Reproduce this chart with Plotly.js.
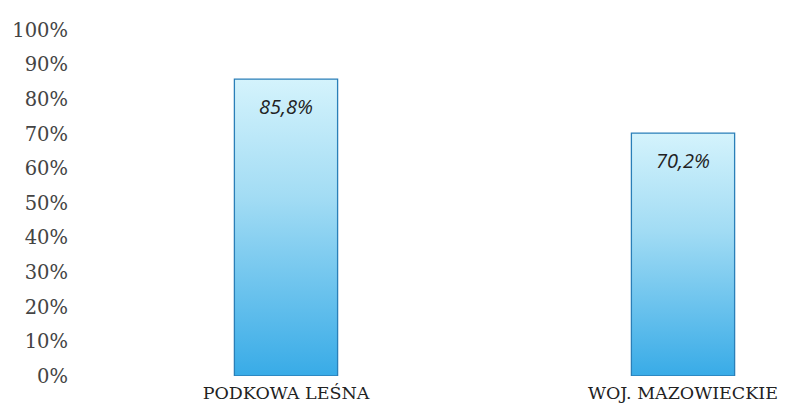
<!DOCTYPE html>
<html>
<head>
<meta charset="utf-8">
<script src="https://cdn.plot.ly/plotly-3.0.1.min.js"></script>
<style>html,body{margin:0;padding:0;background:#fff;}#chart{width:786px;height:415px;}</style>
</head>
<body>
<div id="chart"></div>
<script>
const categories = ["PODKOWA LEŚNA", "WOJ. MAZOWIECKIE"];
const values = [0.858, 0.702];
const tickValues = [0, 0.1, 0.2, 0.3, 0.4, 0.5, 0.6, 0.7, 0.8, 0.9, 1.0];

const fmt = v => (v * 100).toFixed(1).replace('.', ',') + '%';

const trace = {
  type: 'bar',
  x: [0, 1],
  y: values,
  width: 0.26,
  marker: {color: '#7ccbef', line: {color: '#2a7fb8', width: 1.3}},
  hoverinfo: 'skip'
};

const annotations = values.map((v, i) => ({
  x: i, y: v, xref: 'x', yref: 'y',
  text: fmt(v), showarrow: false,
  yanchor: 'top', yshift: -12,
  font: {family: 'Open Sans, Liberation Sans, sans-serif', size: 20, color: '#222', style: 'italic'}
}));

const layout = {
  width: 786, height: 415,
  margin: {l: 90, r: 6, t: 30, b: 39, pad: 0},
  paper_bgcolor: '#fff', plot_bgcolor: '#fff',
  showlegend: false,
  xaxis: {
    range: [-0.4937, 1.2443],
    tickvals: [0, 1], ticktext: categories,
    showgrid: false, zeroline: false, showline: false, ticks: '',
    tickfont: {family: 'DejaVu Serif, Liberation Serif, serif', size: 17.5, color: '#222'},
    ticklabelstandoff: 4
  },
  yaxis: {
    range: [0, 1],
    tickvals: tickValues, tickformat: '.0%',
    showgrid: false, zeroline: false, showline: false, ticks: '',
    tickfont: {family: 'DejaVu Serif, Liberation Serif, serif', size: 19.5, color: '#444'},
    ticklabelstandoff: 21
  },
  annotations: annotations
};

const gd = document.getElementById('chart');
function applyGradient() {
  const svg = gd.querySelector('svg.main-svg');
  if (!svg) return;
  let defs = svg.querySelector('defs');
  if (!defs) { defs = document.createElementNS('http://www.w3.org/2000/svg', 'defs'); svg.insertBefore(defs, svg.firstChild); }
  if (!svg.querySelector('#barGrad')) {
    const g = document.createElementNS('http://www.w3.org/2000/svg', 'linearGradient');
    g.setAttribute('id', 'barGrad');
    g.setAttribute('x1', '0'); g.setAttribute('y1', '0'); g.setAttribute('x2', '0'); g.setAttribute('y2', '1');
    [['0', '#d4f3fc'], ['0.4', '#a2dcf4'], ['1', '#38abe7']].forEach(([o, c]) => {
      const s = document.createElementNS('http://www.w3.org/2000/svg', 'stop');
      s.setAttribute('offset', o); s.setAttribute('stop-color', c);
      g.appendChild(s);
    });
    defs.appendChild(g);
  }
  gd.querySelectorAll('.bars .point path').forEach(p => { p.style.fill = 'url(#barGrad)'; });
}
Plotly.newPlot(gd, [trace], layout, {displayModeBar: false, staticPlot: true}).then(applyGradient);
gd.on && gd.on('plotly_afterplot', applyGradient);
</script>
</body>
</html>
